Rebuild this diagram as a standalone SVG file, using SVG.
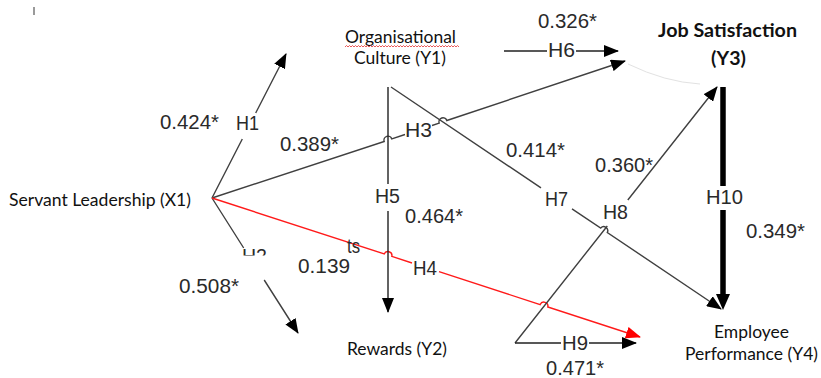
<svg xmlns="http://www.w3.org/2000/svg" width="821" height="378" viewBox="0 0 821 378">
<style>
.n{font-family:Lato,"Open Sans","Liberation Sans",sans-serif;font-size:16.5px;fill:#111}
.b{font-weight:bold}
.l{font-family:"Liberation Sans",Arial,sans-serif;font-size:20.5px;fill:#2a2a2a}
.c{fill:none;stroke:#404040;stroke-width:1.4}
.r{fill:none;stroke:#ff1a1a;stroke-width:1.4}
.t{fill:none;stroke:#000;stroke-width:5.5}
</style>
<defs>
<marker id="arr" markerUnits="userSpaceOnUse" viewBox="0 0 15 12" refX="14" refY="6" markerWidth="15" markerHeight="12" orient="auto"><path d="M0,0 L15,6 L0,12 z" fill="#000"/></marker>
<marker id="arrR" markerUnits="userSpaceOnUse" viewBox="0 0 15 12" refX="14" refY="6" markerWidth="15" markerHeight="12" orient="auto"><path d="M0,0 L15,6 L0,12 z" fill="#ff0000"/></marker>
<marker id="arrT" markerUnits="userSpaceOnUse" viewBox="0 0 16 14" refX="3" refY="7" markerWidth="16" markerHeight="14" orient="auto"><path d="M0,0 L16,7 L0,14 z" fill="#000"/></marker>
<clipPath id="h2clip"><rect x="235" y="240" width="40" height="15.5"/></clipPath>
</defs>
<rect width="821" height="378" fill="#fff"/>
<rect x="33" y="7" width="2" height="8" fill="#9a9a9a"/>

<g id="connectors">
  <g id="H1">
    <path class="c" d="M212,198 L242.3,139 M255.7,113 L286,54" marker-end="url(#arr)"/>
    <text class="l" x="236" y="130" textLength="23" lengthAdjust="spacingAndGlyphs">H1</text>
    <text class="l" x="160" y="129" textLength="59" lengthAdjust="spacingAndGlyphs">0.424*</text>
  </g>
  <g id="H2">
    <path class="c" d="M212,198 L243.7,248 M264.2,280 L298,333" marker-end="url(#arr)"/>
    <text class="l" x="242" y="263" textLength="25" lengthAdjust="spacingAndGlyphs" clip-path="url(#h2clip)">H2</text>
    <text class="l" x="179" y="293" textLength="60" lengthAdjust="spacingAndGlyphs">0.508*</text>
  </g>
  <g id="H3">
    <path class="c" d="M212,198 L384.2,141.5 A4,4 0 0,1 391.8,138.9 L405,134.5 M432,125.5 L439.2,123.1 A4,4 0 0,1 446.8,120.5 L625,61" marker-end="url(#arr)"/>
    <text class="l" x="405" y="137" textLength="27" lengthAdjust="spacingAndGlyphs">H3</text>
    <text class="l" x="280" y="151" textLength="59" lengthAdjust="spacingAndGlyphs">0.389*</text>
  </g>
  <g id="H4">
    <path class="r" d="M212,198 L384.2,254 A4,4 0 0,1 391.8,256.4 L412,263 M439,271.7 L540.2,304.6 A4,4 0 0,1 547.8,307 L640,337" marker-end="url(#arrR)"/>
    <text class="l" x="347" y="253" textLength="13" lengthAdjust="spacingAndGlyphs">ts</text>
    <text class="l" x="413" y="275" textLength="24" lengthAdjust="spacingAndGlyphs">H4</text>
    <text class="l" x="298" y="273" textLength="52" lengthAdjust="spacingAndGlyphs">0.139</text>
  </g>
  <g id="H5">
    <path class="c" d="M388,87 L388,184 M388,211 L388,312" marker-end="url(#arr)" style="stroke:#222"/>
    <text class="l" x="375" y="203" textLength="25" lengthAdjust="spacingAndGlyphs">H5</text>
    <text class="l" x="405" y="223" textLength="58" lengthAdjust="spacingAndGlyphs">0.464*</text>
  </g>
  <g id="H6">
    <path class="c" d="M504,51 L547,51 M576,51 L618,51" marker-end="url(#arr)" style="stroke:#222"/>
    <text class="l" x="548" y="57" textLength="27" lengthAdjust="spacingAndGlyphs">H6</text>
    <text class="l" x="538" y="28" textLength="59" lengthAdjust="spacingAndGlyphs">0.326*</text>
  </g>
  <g id="H7">
    <path class="c" d="M391,87 L541,187.9 M572,208.8 L600.7,228.1 A4,4 0 0,1 607.3,232.5 L721,309" marker-end="url(#arr)"/>
    <text class="l" x="545" y="206" textLength="23" lengthAdjust="spacingAndGlyphs">H7</text>
    <text class="l" x="506" y="157" textLength="59" lengthAdjust="spacingAndGlyphs">0.414*</text>
  </g>
  <g id="H8">
    <path class="c" d="M515,343 L607.3,226 M627.8,200 L717,87" marker-end="url(#arr)"/>
    <text class="l" x="603" y="219" textLength="25" lengthAdjust="spacingAndGlyphs">H8</text>
    <text class="l" x="595" y="172" textLength="58" lengthAdjust="spacingAndGlyphs">0.360*</text>
  </g>
  <g id="H9">
    <path class="c" d="M515,343 L561,343 M589,343 L636,343" marker-end="url(#arr)" style="stroke:#222"/>
    <text class="l" x="562" y="350" textLength="26" lengthAdjust="spacingAndGlyphs">H9</text>
    <text class="l" x="546" y="375" textLength="58" lengthAdjust="spacingAndGlyphs">0.471*</text>
  </g>
  <g id="H10">
    <path class="t" d="M723,87 L723,186 M723,210 L723,297" marker-end="url(#arrT)"/>
    <text class="l" x="706" y="204" textLength="37" lengthAdjust="spacingAndGlyphs">H10</text>
    <text class="l" x="746" y="238" textLength="59" lengthAdjust="spacingAndGlyphs">0.349*</text>
  </g>
  <path d="M628,64 Q665,82 700,84" fill="none" stroke="#e2e2e2" stroke-width="1"/>
</g>

<g id="X1">
  <text class="n" x="9" y="206" textLength="182" lengthAdjust="spacingAndGlyphs">Servant Leadership (X1)</text>
</g>
<g id="Y1">
  <text class="n" x="345" y="43" textLength="111" lengthAdjust="spacingAndGlyphs">Organisational</text>
  <path d="M345,47 l1.5,-1.5 l1.5,1.5 l1.5,-1.5 l1.5,1.5 l1.5,-1.5 l1.5,1.5 l1.5,-1.5 l1.5,1.5 l1.5,-1.5 l1.5,1.5 l1.5,-1.5 l1.5,1.5 l1.5,-1.5 l1.5,1.5 l1.5,-1.5 l1.5,1.5 l1.5,-1.5 l1.5,1.5 l1.5,-1.5 l1.5,1.5 l1.5,-1.5 l1.5,1.5 l1.5,-1.5 l1.5,1.5 l1.5,-1.5 l1.5,1.5 l1.5,-1.5 l1.5,1.5 l1.5,-1.5 l1.5,1.5 l1.5,-1.5 l1.5,1.5 l1.5,-1.5 l1.5,1.5 l1.5,-1.5 l1.5,1.5 l1.5,-1.5 l1.5,1.5 l1.5,-1.5 l1.5,1.5 l1.5,-1.5 l1.5,1.5 l1.5,-1.5 l1.5,1.5 l1.5,-1.5 l1.5,1.5 l1.5,-1.5 l1.5,1.5 l1.5,-1.5 l1.5,1.5 l1.5,-1.5 l1.5,1.5 l1.5,-1.5 l1.5,1.5 l1.5,-1.5 l1.5,1.5 l1.5,-1.5 l1.5,1.5 l1.5,-1.5 l1.5,1.5 l1.5,-1.5 l1.5,1.5 l1.5,-1.5 l1.5,1.5 l1.5,-1.5 l1.5,1.5 l1.5,-1.5 l1.5,1.5 l1.5,-1.5 l1.5,1.5 l1.5,-1.5 l1.5,1.5 l1.5,-1.5 l1.5,1.5 l1.5,-1.5 l1.5,1.5" fill="none" stroke="#e53030" stroke-width="0.8"/>
  <text class="n" x="354" y="64" textLength="92" lengthAdjust="spacingAndGlyphs">Culture (Y1)</text>
</g>
<g id="Y2">
  <text class="n" x="347" y="355" textLength="100" lengthAdjust="spacingAndGlyphs">Rewards (Y2)</text>
</g>
<g id="Y3">
  <text class="n b" x="658" y="37" textLength="139" lengthAdjust="spacingAndGlyphs" style="font-size:18px">Job Satisfaction</text>
  <text class="n b" x="711" y="65" textLength="35" lengthAdjust="spacingAndGlyphs" style="font-size:18px">(Y3)</text>
</g>
<g id="Y4">
  <text class="n" x="714" y="338" textLength="75" lengthAdjust="spacingAndGlyphs">Employee</text>
  <text class="n" x="685" y="360" textLength="133" lengthAdjust="spacingAndGlyphs">Performance (Y4)</text>
</g>
</svg>
